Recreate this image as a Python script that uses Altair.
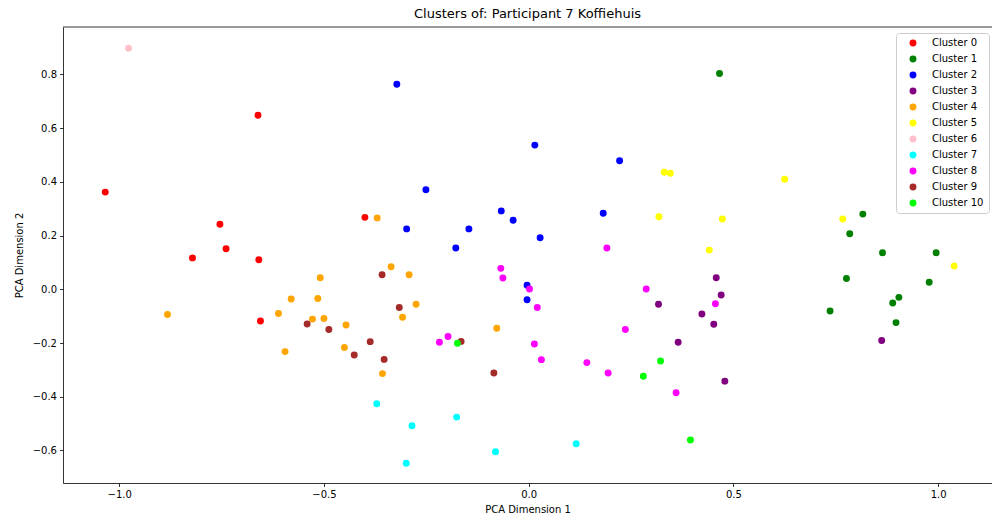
import altair as alt
import pandas as pd

cluster_names = [f"Cluster {i}" for i in range(11)]
cluster_colors = ["red", "green", "blue", "purple", "orange", "yellow",
                  "pink", "cyan", "magenta", "brown", "lime"]

x0 = [-1.034, -0.661, -0.400, -0.754, -0.739, -0.821, -0.659, -0.655]
y0 = [0.362, 0.648, 0.268, 0.242, 0.151, 0.117, 0.110, -0.118]

x1 = [0.466, 0.816, 0.784, 0.864, 0.995, 0.776, 0.978, 0.904, 0.889, 0.736, 0.897]
y1 = [0.804, 0.280, 0.207, 0.136, 0.136, 0.040, 0.026, -0.030, -0.051, -0.081, -0.124]

x2 = [-0.322, 0.015, 0.222, -0.251, -0.067, -0.038, 0.182, -0.298, -0.146, 0.028, -0.178, -0.004, -0.004]
y2 = [0.764, 0.537, 0.479, 0.371, 0.292, 0.257, 0.283, 0.225, 0.225, 0.192, 0.154, 0.015, -0.039]

x3 = [0.458, 0.470, 0.317, 0.423, 0.452, 0.365, 0.862, 0.479]
y3 = [0.043, -0.021, -0.056, -0.092, -0.130, -0.197, -0.191, -0.342]

x4 = [-0.370, -0.336, -0.292, -0.509, -0.580, -0.515, -0.882, -0.611, -0.528,
      -0.500, -0.446, -0.595, -0.450, -0.357, -0.275, -0.308, -0.078]
y4 = [0.266, 0.084, 0.054, 0.043, -0.036, -0.034, -0.094, -0.090, -0.111,
      -0.109, -0.133, -0.232, -0.217, -0.314, -0.056, -0.104, -0.145]

x5 = [0.331, 0.346, 0.318, 0.441, 0.625, 0.473, 0.767, 1.039]
y5 = [0.436, 0.432, 0.270, 0.146, 0.410, 0.262, 0.262, 0.087]

x6 = [-0.977]
y6 = [0.898]

x7 = [-0.371, -0.176, -0.285, -0.299, -0.081, 0.116]
y7 = [-0.426, -0.476, -0.508, -0.648, -0.605, -0.575]

x8 = [-0.068, -0.063, 0.002, 0.021, -0.218, -0.197, 0.014, 0.031, 0.287,
      0.236, 0.142, 0.194, 0.360, 0.191, 0.456]
y8 = [0.078, 0.042, 0.001, -0.068, -0.197, -0.176, -0.204, -0.262, 0.001,
      -0.150, -0.273, -0.312, -0.385, 0.154, -0.054]

x9 = [-0.358, -0.541, -0.488, -0.387, -0.426, -0.353, -0.316, -0.165, -0.085]
y9 = [0.054, -0.129, -0.150, -0.195, -0.245, -0.261, -0.068, -0.194, -0.312]

x10 = [-0.174, 0.322, 0.280, 0.395]
y10 = [-0.201, -0.267, -0.324, -0.561]

xs = [x0, x1, x2, x3, x4, x5, x6, x7, x8, x9, x10]
ys = [y0, y1, y2, y3, y4, y5, y6, y7, y8, y9, y10]

x_ticks = [-1.0, -0.5, 0.0, 0.5, 1.0]
y_ticks = [-0.6, -0.4, -0.2, 0.0, 0.2, 0.4, 0.6, 0.8]

rows = []
order = 0
for name, cx, cy in zip(cluster_names, xs, ys):
    for a, b in zip(cx, cy):
        rows.append({"pc1": a, "pc2": b, "cluster": name, "order": order})
        order += 1
df = pd.DataFrame(rows)

W, H = 929, 456
FONT = "DejaVu Sans"

points = alt.Chart(df).mark_circle(size=48, opacity=1).encode(
    x=alt.X("pc1:Q",
            scale=alt.Scale(domain=[-1.1372, 1.1314], nice=False, zero=False),
            axis=alt.Axis(values=x_ticks, format=".1f", title="PCA Dimension 1",
                          titlePadding=5)),
    y=alt.Y("pc2:Q",
            scale=alt.Scale(domain=[-0.7214, 0.9769], nice=False, zero=False),
            axis=alt.Axis(values=y_ticks, format=".1f", title="PCA Dimension 2",
                          titlePadding=8)),
    color=alt.Color("cluster:N",
                    scale=alt.Scale(domain=cluster_names, range=cluster_colors),
                    legend=alt.Legend(title=None, orient="none", legendX=833, legendY=6)),
    order=alt.Order("order:Q"),
)

spine = alt.Chart(pd.DataFrame({"s": [0]})).mark_rule(
    color="black", strokeWidth=0.8
).encode(y=alt.value(0), x=alt.value(0), x2=alt.value(W))

chart = alt.layer(points, spine).properties(
    width=W, height=H,
    title=alt.TitleParams("Clusters of: Participant 7 Koffiehuis", fontSize=13,
                          fontWeight="normal", font=FONT, color="black", offset=6),
    autosize=alt.AutoSizeParams(type="none"),
    padding={"left": 63, "top": 27, "right": 0, "bottom": 42},
).configure_view(stroke=None).configure_axis(
    grid=False, domainColor="black", domainWidth=0.8, tickColor="black",
    tickWidth=0.8, tickSize=3.5, labelPadding=3, labelFont=FONT, labelFontSize=10,
    labelColor="black", titleFont=FONT, titleFontSize=10, titleFontWeight="normal",
    titleColor="black",
).configure_legend(
    labelFont=FONT, labelFontSize=10, labelColor="black", symbolSize=48,
    symbolType="circle", symbolStrokeWidth=0, padding=5, symbolOffset=7,
    labelOffset=14, rowPadding=6, strokeColor="#cccccc", fillColor="white",
    cornerRadius=3,
)

chart.save("out.html", embed_options={"renderer": "svg", "actions": False})
